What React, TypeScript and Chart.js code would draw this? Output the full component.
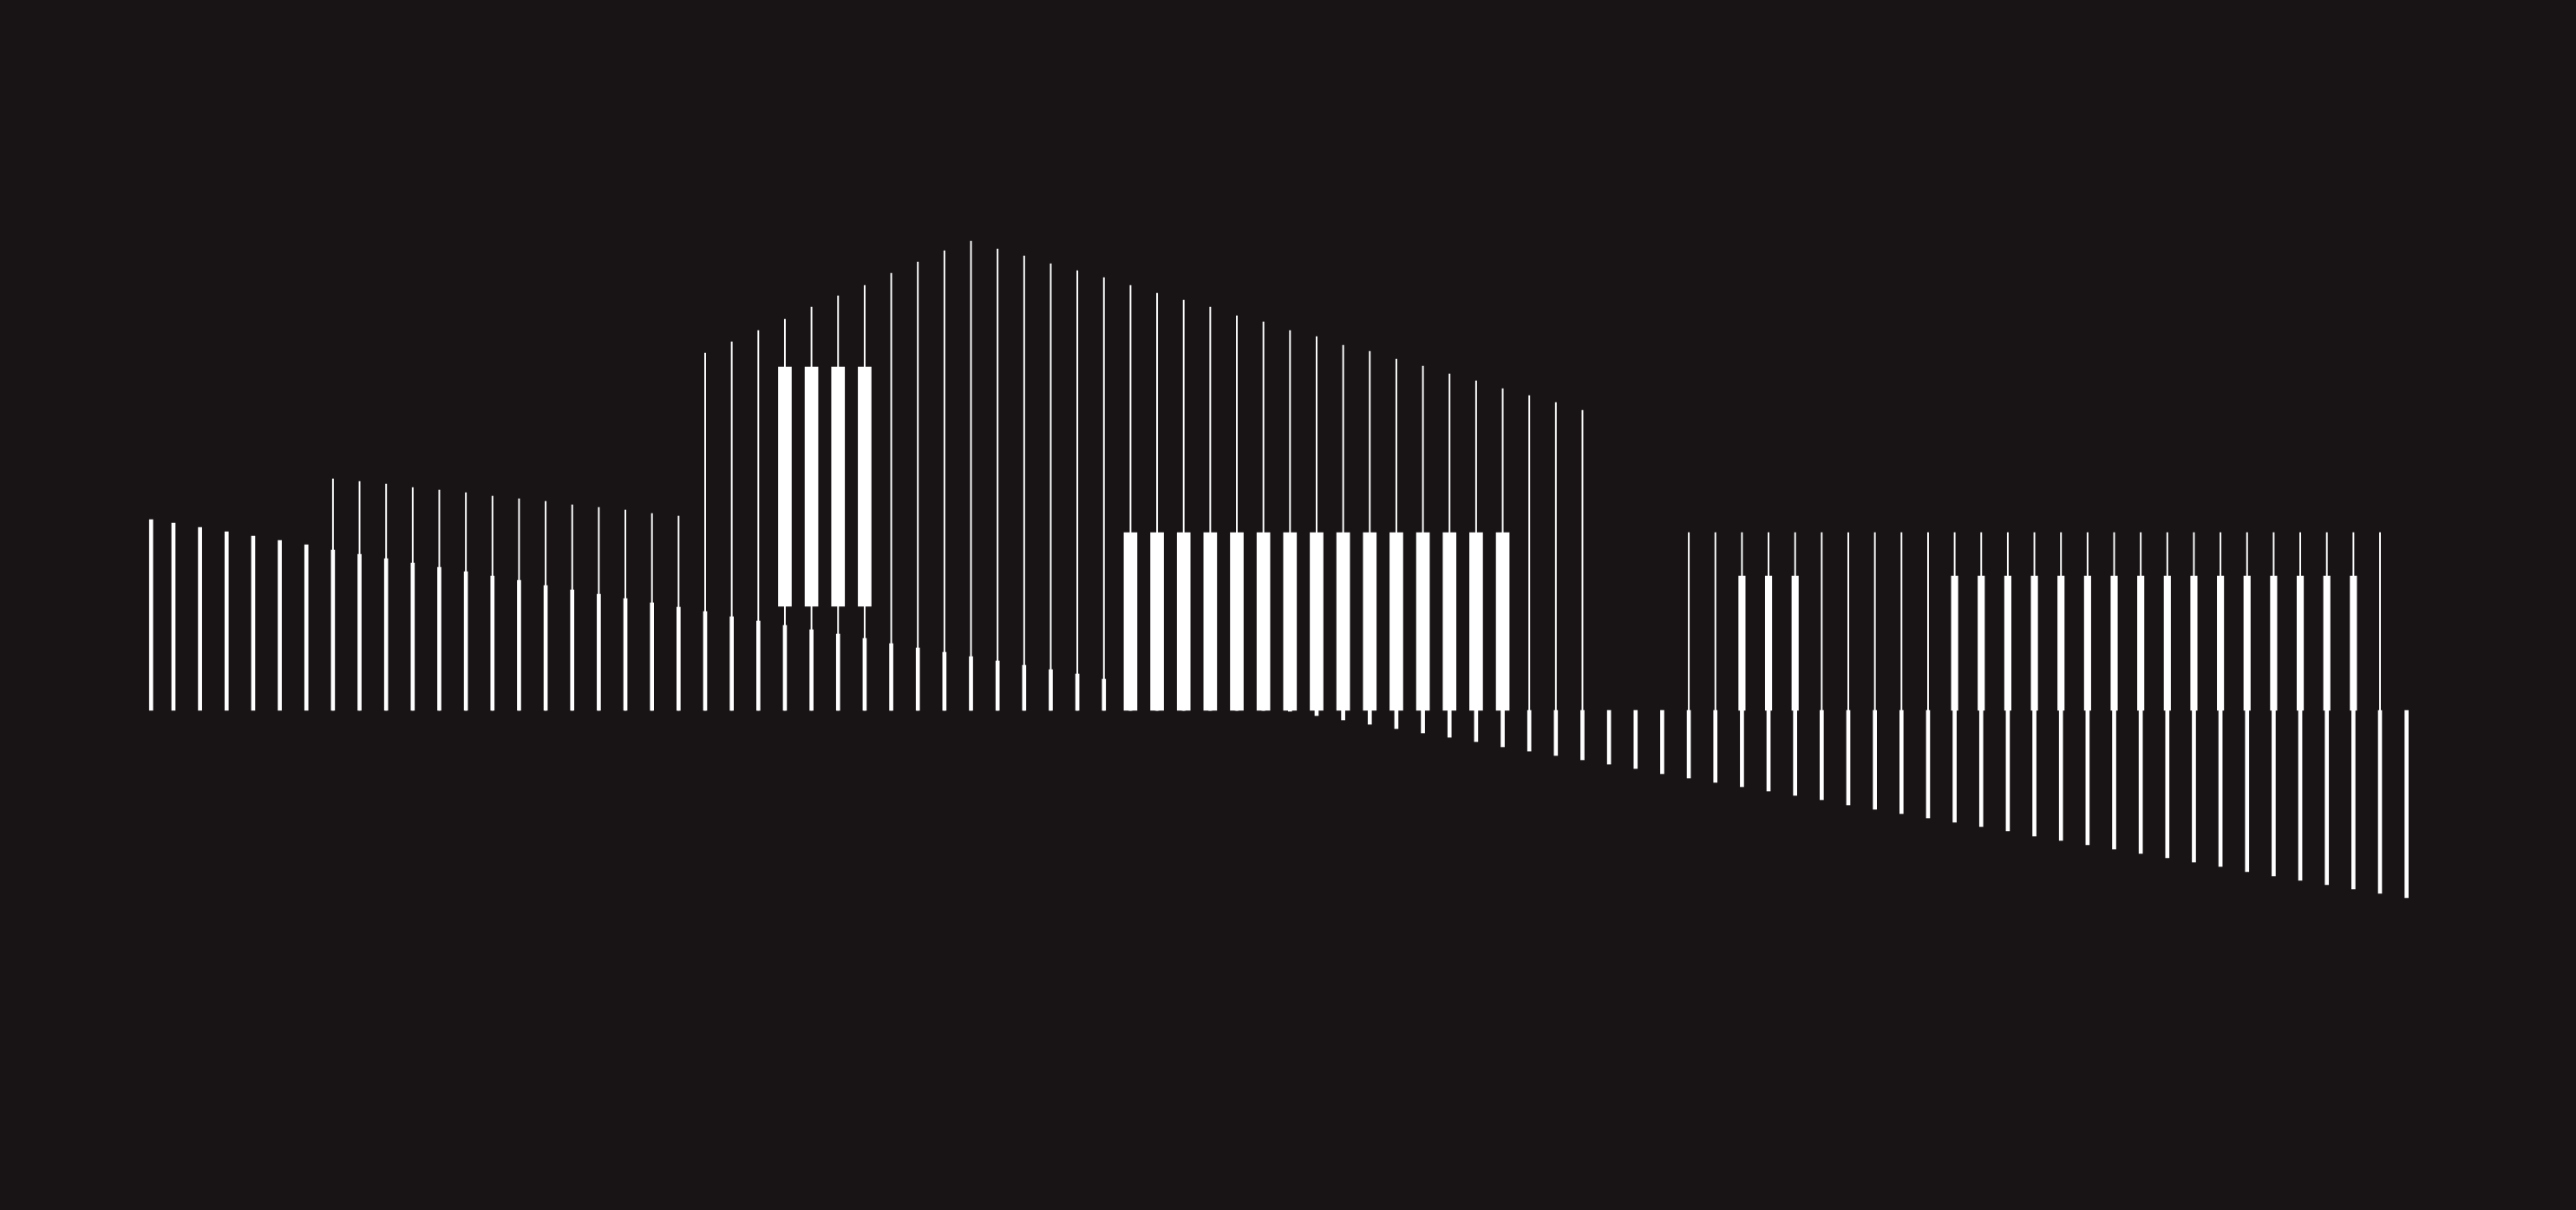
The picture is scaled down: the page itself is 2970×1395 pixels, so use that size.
import { useEffect, useRef } from "react"
import { Chart, registerables, type ChartConfiguration } from "chart.js"

Chart.register(...registerables)

const N = null

// x position of each column (the first one sits a little to the right)
const columnX = [
  1.16, 2, 3, 4, 5, 6, 7, 8, 9, 10,
  11, 12, 13, 14, 15, 16, 17, 18, 19, 20,
  21, 22, 23, 24, 25, 26, 27, 28, 29, 30,
  31, 32, 33, 34, 35, 36, 37, 38, 39, 40,
  41, 42, 43, 44, 45, 46, 47, 48, 49, 50,
  51, 52, 53, 54, 55, 56, 57, 58, 59, 60,
  61, 62, 63, 64, 65, 66, 67, 68, 69, 70,
  71, 72, 73, 74, 75, 76, 77, 78, 79, 80,
  81, 82, 83, 84, 85, 86,
]

// thin hairline bars, from zero
const hairline = [
  N, N, N, N, N, N, N, 267, 264, 261,
  257, 254, 251, 247, 244, 241, 237, 234, 231, 227,
  224, 412, 425, 438, 451, 465, 478, 490, 504, 517,
  530, 541, 532, 524, 515, 507, 499, 490, 481, 473,
  465, 455, 448, 438, 431, 421, 414, 405, 397, 388,
  380, 371, 363, 355, 346, N, N, N, 205, 205,
  205, 205, 205, 205, 205, 205, 205, 205, 205, 205,
  205, 205, 205, 205, 205, 205, 205, 205, 205, 205,
  205, 205, 205, 205, 205, N,
]

// medium bars, sloping from positive to negative
const slope = [
  220, 216, 211, 206, 201, 196, 191, 185, 180, 175,
  170, 165, 160, 155, 150, 144, 139, 134, 129, 124,
  119, 114, 108, 103, 98, 93, 88, 83, 77, 72,
  67, 62, 57, 52, 47, 42, 36, 31, 26, 21,
  16, 11, 5, -1, -6, -11, -16, -21, -26, -31,
  -36, -42, -47, -52, -57, -62, -67, -73, -78, -83,
  -88, -93, -98, -103, -109, -114, -119, -124, -129, -134,
  -139, -145, -150, -155, -160, -165, -170, -175, -180, -186,
  -191, -196, -201, -206, -211, -216,
]

// wide floating bars [low, high]
const wide: ([number, number] | null)[] = [
  N, N, N, N, N, N, N, N, N, N,
  N, N, N, N, N, N, N, N, N, N,
  N, N, N, N, [120, 396], [120, 396], [120, 396], [120, 396], N, N,
  N, N, N, N, N, N, N, [0, 205], [0, 205], [0, 205],
  [0, 205], [0, 205], [0, 205], [0, 205], [0, 205], [0, 205], [0, 205], [0, 205], [0, 205], [0, 205],
  [0, 205], [0, 205], N, N, N, N, N, N, N, N,
  N, N, N, N, N, N, N, N, N, N,
  N, N, N, N, N, N, N, N, N, N,
  N, N, N, N, N, N,
]

// narrower bars on the right-hand block
const block = [
  N, N, N, N, N, N, N, N, N, N,
  N, N, N, N, N, N, N, N, N, N,
  N, N, N, N, N, N, N, N, N, N,
  N, N, N, N, N, N, N, N, N, N,
  N, N, N, N, N, N, N, N, N, N,
  N, N, N, N, N, N, N, N, N, N,
  155, 155, 155, N, N, N, N, N, 155, 155,
  155, 155, 155, 155, 155, 155, 155, 155, 155, 155,
  155, 155, 155, 155, N, N,
]

const BG = "#181415"
const WHITE = "#ffffff"

function toPoints(values: (number | [number, number] | null)[]) {
  const pts: { x: number; y: number | [number, number] }[] = []
  values.forEach((v, i) => {
    if (v !== null) pts.push({ x: columnX[i], y: v })
  })
  return pts
}

export default function App() {
  const canvasRef = useRef<HTMLCanvasElement>(null)
  const chartRef = useRef<Chart | null>(null)

  useEffect(() => {
    if (!canvasRef.current) return
    if (chartRef.current) chartRef.current.destroy()

    const config: ChartConfiguration = {
      type: "bar",
      data: {
        datasets: [
          {
            label: "hairline",
            data: toPoints(hairline) as any,
            backgroundColor: WHITE,
            barThickness: 1.3,
            grouped: false,
            borderWidth: 0,
          },
          {
            label: "slope",
            data: toPoints(slope) as any,
            backgroundColor: WHITE,
            barThickness: 4,
            grouped: false,
            borderWidth: 0,
          },
          {
            label: "wide",
            data: toPoints(wide) as any,
            backgroundColor: WHITE,
            barThickness: 15,
            grouped: false,
            borderWidth: 0,
          },
          {
            label: "block",
            data: toPoints(block) as any,
            backgroundColor: WHITE,
            barThickness: 7.5,
            grouped: false,
            borderWidth: 0,
          },
        ],
      },
      options: {
        animation: false,
        responsive: true,
        maintainAspectRatio: false,
        events: [],
        layout: {
          padding: { left: 154, right: 180, top: 0, bottom: 0 },
        },
        scales: {
          x: {
            type: "linear",
            display: false,
            min: 0.5,
            max: 86.5,
            offset: false,
            grid: { display: false },
          },
          y: { display: false, min: -576, max: 819, grid: { display: false } },
        },
        plugins: {
          legend: { display: false },
          tooltip: { enabled: false },
        },
      },
    }

    chartRef.current = new Chart(canvasRef.current, config)

    return () => {
      if (chartRef.current) {
        chartRef.current.destroy()
        chartRef.current = null
      }
    }
  }, [])

  return (
    <div
      style={{
        position: "fixed",
        left: 0,
        top: 0,
        width: 2970,
        height: 1395,
        background: BG,
      }}
    >
      <canvas ref={canvasRef} />
    </div>
  )
}
